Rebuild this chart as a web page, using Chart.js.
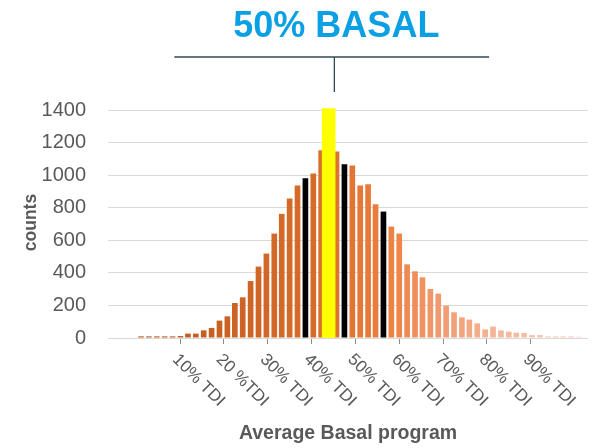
<!DOCTYPE html>
<html>
<head>
<meta charset="utf-8">
<script src="https://cdn.jsdelivr.net/npm/chart.js@4"></script>
<style>
  html, body { margin: 0; padding: 0; background: #ffffff; }
  canvas { display: block; }
</style>
</head>
<body>
<canvas id="c" width="599" height="448" style="width:599px;height:448px"></canvas>
<script>
// ---- data ----
// bin centres on the "% TDI" scale
const bins = [1.1, 2.9, 4.7, 6.5, 8.3, 10.1, 11.8, 13.6, 15.4, 17.2,
              19.0, 20.8, 22.5, 24.3, 26.1, 27.9, 29.7, 31.5, 33.2, 35.0,
              36.8, 38.6, 40.4, 42.2, 43.9, 45.7, 47.5, 49.3, 51.1, 52.9,
              54.6, 56.4, 58.2, 60.0, 61.8, 63.6, 65.3, 67.1, 68.9, 70.7,
              72.5, 74.3, 76.0, 77.8, 79.6, 81.4, 83.2, 85.0, 86.7, 88.5,
              90.3, 92.1, 93.9, 95.7, 97.4, 99.2, 101.0];
const counts = [10, 10, 10, 10, 10, 12, 27, 27, 47, 62,
                107, 133, 215, 250, 350, 439, 519, 642, 763, 857,
                937, 982, 1011, 1154, 1410, 1146, 1068, 1060, 937, 945,
                822, 777, 685, 642, 453, 410, 373, 301, 273, 199,
                158, 127, 113, 90, 53, 70, 47, 39, 33, 31,
                18, 18, 10, 10, 10, 10, 8];
const highlightIndex = 24;          // yellow bar
const markerIndices = [21, 26, 31]; // black bars
const calloutAt = 45.2;             // % TDI of the callout stem

const yTicks = [0, 200, 400, 600, 800, 1000, 1200, 1400];
const tickValues = [10, 20, 30, 40, 50, 60, 70, 80, 90];
const tickLabels = ['10% TDI', '20 %TDI', '30% TDI', '40% TDI', '50% TDI',
                    '60% TDI', '70% TDI', '80% TDI', '90% TDI'];
const titleText = '50% BASAL';
const xTitle = 'Average Basal program';
const yTitle = 'counts';

// ---- styling ----
const FONT = '"Liberation Sans", Arial, sans-serif';
const GREY = '#595959';
const colorStops = [
  [0,  [188, 88, 30]],
  [23, [218, 108, 42]],
  [31, [236, 126, 62]],
  [37, [241, 150, 105]],
  [45, [245, 180, 150]],
  [56, [249, 210, 192]]
];
function gradientColor(i) {
  for (let k = 0; k < colorStops.length - 1; k++) {
    const [a, ca] = colorStops[k], [b, cb] = colorStops[k + 1];
    if (i >= a && i <= b) {
      const t = (i - a) / (b - a);
      const c = ca.map((v, j) => Math.round(v + (cb[j] - v) * t));
      return `rgb(${c[0]},${c[1]},${c[2]})`;
    }
  }
  const c = colorStops[colorStops.length - 1][1];
  return `rgb(${c[0]},${c[1]},${c[2]})`;
}
const barColors = counts.map((v, i) =>
  i === highlightIndex ? '#ffff00' : (markerIndices.includes(i) ? '#000000' : gradientColor(i)));

const annotationPlugin = {
  id: 'annot',
  afterDraw(chart) {
    const ctx = chart.ctx;
    const xs = chart.scales.x;
    const area = chart.chartArea;
    ctx.save();
    // rotated x tick labels
    ctx.fillStyle = GREY;
    ctx.font = '17px ' + FONT;
    ctx.textAlign = 'left';
    ctx.textBaseline = 'middle';
    xs.ticks.forEach((t, i) => {
      const px = xs.getPixelForValue(t.value);
      ctx.save();
      ctx.translate(px - 5, xs.top + 19);
      ctx.rotate(Math.PI / 4);
      ctx.fillText(tickLabels[i], 0, 0);
      ctx.restore();
    });
    // callout title and bracket
    const cx = xs.getPixelForValue(calloutAt);
    ctx.strokeStyle = '#2f4a58';
    ctx.lineWidth = 1.3;
    ctx.beginPath();
    ctx.moveTo(xs.getPixelForValue(8.7), area.top - 50);
    ctx.lineTo(xs.getPixelForValue(80.5), area.top - 50);
    ctx.moveTo(cx, area.top - 50);
    ctx.lineTo(cx, area.top - 15);
    ctx.stroke();
    ctx.fillStyle = '#0b9fe3';
    ctx.font = 'bold 36px ' + FONT;
    ctx.textAlign = 'center';
    ctx.textBaseline = 'alphabetic';
    ctx.fillText(titleText, cx + 2, area.top - 70);
    ctx.restore();
  }
};

new Chart(document.getElementById('c'), {
  type: 'bar',
  data: {
    datasets: [
      {
        label: 'highlight',
        data: [{ x: bins[highlightIndex], y: counts[highlightIndex] }],
        backgroundColor: '#ffff00',
        barThickness: 13,
        order: 0
      },
      {
        label: 'counts',
        data: bins.map((x, i) => ({ x, y: counts[i] })),
        backgroundColor: barColors,
        barPercentage: 0.76,
        categoryPercentage: 1.0,
        order: 1
      }
    ]
  },
  options: {
    responsive: false,
    devicePixelRatio: 1,
    animation: false,
    layout: { padding: { top: 107, right: 11, left: 0, bottom: 0 } },
    datasets: { bar: { grouped: false } },
    plugins: { legend: { display: false }, tooltip: { enabled: false }, title: { display: false } },
    scales: {
      x: {
        type: 'linear',
        min: -6.43,
        max: 103.06,
        offset: false,
        grid: { display: true, offset: false, drawOnChartArea: false, drawTicks: true,
                tickLength: 6, tickColor: '#8c8c8c', tickWidth: 1 },
        border: { display: false },
        ticks: { display: false },
        afterBuildTicks(scale) { scale.ticks = tickValues.map(v => ({ value: v })); },
        afterFit(scale) { scale.height = 110; },
        title: { display: true, text: xTitle, color: GREY,
                 font: { family: FONT, size: 19.5, weight: 'bold' },
                 padding: { top: 0, bottom: 3 } }
      },
      y: {
        min: 0,
        max: 1420,
        grid: { color: '#d9d9d9', lineWidth: 1, drawTicks: false },
        border: { display: false },
        ticks: { stepSize: 200, padding: 22, color: GREY,
                 font: { family: FONT, size: 20 },
                 callback: (v) => String(v) },
        afterBuildTicks(scale) { scale.ticks = yTicks.map(v => ({ value: v })); },
        afterFit(scale) { scale.width = 108; },
        title: { display: true, text: yTitle, color: GREY,
                 font: { family: FONT, size: 17.5, weight: 'bold' },
                 padding: { top: 21, bottom: 0 } }
      }
    }
  },
  plugins: [annotationPlugin]
});
</script>
</body>
</html>
